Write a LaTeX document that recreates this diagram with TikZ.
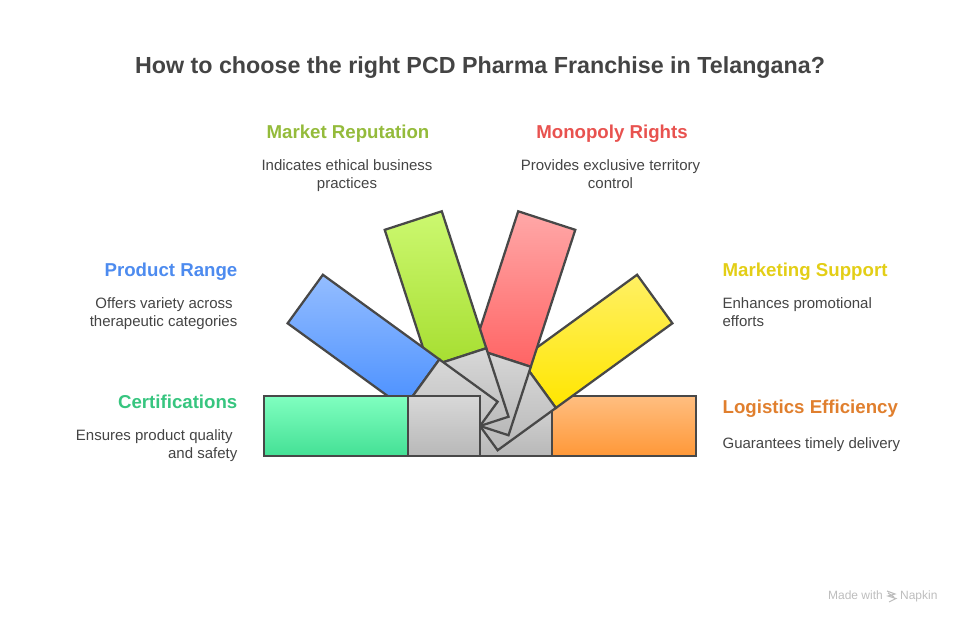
\documentclass[tikz,border=0pt]{standalone}
\usepackage{fontspec}
\setmainfont{Liberation Sans}
\usepackage{tikz}

\definecolor{inkgray}{HTML}{444444}
\definecolor{edgegray}{HTML}{484848}
\definecolor{markgray}{HTML}{BDBDBD}
\definecolor{certgreen}{HTML}{37C57F}
\definecolor{rangeblue}{HTML}{4D8BEF}
\definecolor{marketlime}{HTML}{94BB3B}
\definecolor{monored}{HTML}{E8524F}
\definecolor{supportyellow}{HTML}{E3CE16}
\definecolor{logisorange}{HTML}{E07F2E}

\definecolor{certtop}{HTML}{80FFC0}
\definecolor{certbot}{HTML}{44E095}
\definecolor{rangetop}{HTML}{94BDFF}
\definecolor{rangebot}{HTML}{4A90FF}
\definecolor{markettop}{HTML}{CCF870}
\definecolor{marketbot}{HTML}{A6DE30}
\definecolor{monotop}{HTML}{FFA8A8}
\definecolor{monobot}{HTML}{FF6464}
\definecolor{supporttop}{HTML}{FFF064}
\definecolor{supportbot}{HTML}{FFE600}
\definecolor{logistop}{HTML}{FFBE80}
\definecolor{logisbot}{HTML}{FF9838}
\definecolor{hubtop}{HTML}{D8D8D8}
\definecolor{hubbot}{HTML}{B8B8B8}

\begin{document}
\begin{tikzpicture}[x=0.75pt, y=0.75pt, line width=1.7pt]

% =========================
% Styles
% =========================
\tikzstyle{title} = [
    font=\bfseries\fontsize{17.45}{22}\selectfont,
    text=inkgray,
    inner sep=0pt
]

\tikzstyle{heading} = [
    font=\bfseries\fontsize{14}{18}\selectfont,
    inner sep=0pt
]

\tikzstyle{body} = [
    font=\fontsize{11.25}{13.5}\selectfont,
    text=inkgray,
    inner sep=0pt
]

\tikzstyle{footer} = [
    font=\fontsize{9}{10}\selectfont,
    text=markgray,
    inner sep=0pt,
    anchor=base west
]

\tikzstyle{hubpart} = [
    draw=edgegray,
    top color=hubtop,
    bottom color=hubbot
]

\tikzstyle{blade} = [draw=edgegray]

\useasboundingbox (0,0) rectangle (960,624);
\coordinate (hub) at (480,198);

% =========================
% Fan blades (back to front)
% =========================
\begin{scope}[rotate around={-180:(hub)}]
    \path[blade, top color=logistop, bottom color=logisbot]
        (264,168) rectangle (408,228);
    \path[hubpart] (408,168) rectangle (480,228);
\end{scope}

\begin{scope}[rotate around={-144:(hub)}]
    \path[blade, top color=supporttop, bottom color=supportbot]
        (264,168) rectangle (408,228);
    \path[hubpart] (408,168) rectangle (480,228);
\end{scope}

\begin{scope}[rotate around={-108:(hub)}]
    \path[blade, top color=monotop, bottom color=monobot]
        (264,168) rectangle (408,228);
    \path[hubpart] (408,168) rectangle (480,228);
\end{scope}

\begin{scope}[rotate around={-72:(hub)}]
    \path[blade, top color=markettop, bottom color=marketbot]
        (264,168) rectangle (408,228);
    \path[hubpart] (408,168) rectangle (480,228);
\end{scope}

\begin{scope}[rotate around={-36:(hub)}]
    \path[blade, top color=rangetop, bottom color=rangebot]
        (264,168) rectangle (408,228);
    \path[hubpart] (408,168) rectangle (480,228);
\end{scope}

\path[blade, top color=certtop, bottom color=certbot]
    (264,168) rectangle (408,228);
\path[hubpart] (408,168) rectangle (480,228);

% =========================
% Texts
% =========================
\node[title] (title) at (480,556.5) {How to choose the right PCD Pharma Franchise in Telangana?};

\node[heading, text=marketlime] (market) at (348,490) {Market Reputation};
\node[body, align=center, anchor=north] (marketbody) at (347,465.5)
    {Indicates ethical business\\practices};

\node[heading, text=monored] (mono) at (612,490) {Monopoly Rights};
\node[body, align=center, anchor=north] (monobody) at (610.5,465.5)
    {Provides exclusive territory\\control};

\node[heading, text=rangeblue, anchor=east] (range) at (238.5,352) {Product Range};
\node[body, align=right, anchor=north east] (rangebody) at (238.5,327.5)
    {Offers variety across\hspace*{3.5pt}\\therapeutic categories};

\node[heading, text=supportyellow, anchor=west] (support) at (721.5,352) {Marketing Support};
\node[body, align=left, anchor=north west] (supportbody) at (721.5,327.5)
    {Enhances promotional\\efforts};

\node[heading, text=certgreen, anchor=east] (cert) at (238.5,222) {Certifications};
\node[body, align=right, anchor=north east] (certbody) at (238.5,195.5)
    {Ensures product quality\hspace*{3.5pt}\\and safety};

\node[heading, text=logisorange, anchor=west] (logis) at (721.5,215) {Logistics Efficiency};
\node[body, anchor=west] (logisbody) at (721.5,179) {Guarantees timely delivery};

% =========================
% Footer mark
% =========================
\node[footer] (made) at (827,24) {Made with};
\node[footer] (napkin) at (899,24) {Napkin};
\draw[markgray, line width=0.8pt] (887,33) -- (895,30) -- (888,28) -- (896,25.5) -- (889,22)
    (888,31) -- (894,27);

\end{tikzpicture}
\end{document}
